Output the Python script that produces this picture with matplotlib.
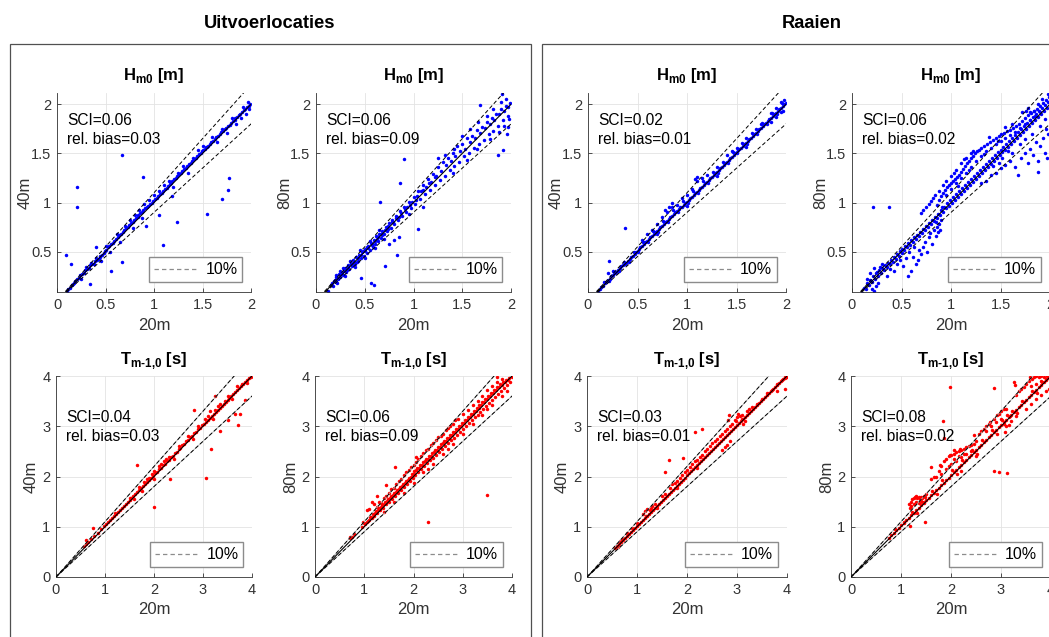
import matplotlib
matplotlib.use("Agg")
import matplotlib.pyplot as plt
import numpy as np
from matplotlib.lines import Line2D
from matplotlib.patches import Rectangle

plt.rcParams['font.family'] = ['Liberation Sans', 'DejaVu Sans']
plt.rcParams['mathtext.fontset'] = 'custom'
plt.rcParams['mathtext.rm'] = 'Liberation Sans'
plt.rcParams['mathtext.bf'] = 'Liberation Sans:bold'

# ---------------- data ----------------
panel_titles = ["Uitvoerlocaties", "Raaien"]
xlabel = "20m"
ylabels = ["40m", "80m", "40m", "80m"]
sci_hm0 = ["0.06", "0.06", "0.02", "0.06"]
bias_hm0 = ["0.03", "0.09", "0.01", "0.02"]
sci_tm = ["0.04", "0.06", "0.03", "0.08"]
bias_tm = ["0.03", "0.09", "0.01", "0.02"]
hm0_ticks = [0, 0.5, 1, 1.5, 2]
hm0_ticklabels = ["0", "0.5", "1", "1.5", "2"]
tm_ticks = [0, 1, 2, 3, 4]

# Uitvoerlocaties, Hm0, 40m vs 20m
uit_hm0_40 = [
    (0.10,0.10),(0.11,0.12),(0.13,0.13),(0.15,0.16),(0.16,0.17),(0.18,0.18),(0.19,0.20),(0.21,0.22),
    (0.23,0.23),(0.24,0.26),(0.26,0.27),(0.28,0.28),(0.29,0.31),(0.31,0.32),(0.33,0.33),(0.34,0.36),
    (0.36,0.37),(0.38,0.38),(0.39,0.41),(0.41,0.42),(0.43,0.43),(0.44,0.46),(0.46,0.47),(0.48,0.49),
    (0.49,0.51),(0.51,0.52),(0.53,0.55),(0.54,0.56),(0.56,0.58),(0.58,0.59),(0.59,0.61),(0.61,0.63),
    (0.63,0.65),(0.64,0.67),(0.66,0.68),(0.68,0.70),(0.69,0.72),(0.71,0.74),(0.73,0.75),(0.74,0.77),
    (0.76,0.79),(0.78,0.80),(0.79,0.82),(0.81,0.84),(0.83,0.85),(0.84,0.87),(0.86,0.89),(0.88,0.90),
    (0.89,0.92),(0.91,0.94),(0.93,0.95),(0.94,0.97),(0.96,0.99),(0.98,1.00),(0.99,1.02),(1.01,1.04),
    (1.03,1.05),(1.04,1.07),(1.06,1.09),(1.08,1.10),(1.09,1.12),(1.11,1.14),(1.13,1.15),(1.14,1.17),
    (1.16,1.19),(1.18,1.20),(1.19,1.22),(1.21,1.24),(1.23,1.25),(1.24,1.27),(1.26,1.29),(1.28,1.30),
    (1.29,1.32),(1.31,1.34),(1.33,1.35),(1.34,1.37),(1.36,1.39),(1.38,1.40),(1.39,1.42),(1.41,1.44),
    (1.43,1.45),(1.44,1.47),(1.46,1.49),(1.48,1.50),(1.49,1.52),(1.51,1.53),(1.53,1.55),(1.54,1.57),
    (1.56,1.58),(1.58,1.60),(1.59,1.62),(1.61,1.63),(1.63,1.65),(1.64,1.67),(1.66,1.68),(1.68,1.70),
    (1.69,1.72),(1.71,1.73),(1.73,1.75),(1.74,1.76),(1.76,1.78),(1.78,1.79),(1.79,1.81),(1.81,1.83),
    (1.83,1.84),(1.84,1.86),(1.86,1.87),(1.88,1.89),(1.89,1.90),(1.91,1.92),(1.93,1.94),(1.94,1.95),
    (1.96,1.97),(1.98,1.98),(1.99,2.00),
    (0.62,0.68),(0.70,0.76),(0.75,0.82),(0.80,0.87),(0.85,0.92),(0.90,0.99),(0.95,1.03),(1.00,1.08),
    (1.05,1.12),(0.78,0.74),(0.88,0.84),(1.10,1.18),(1.15,1.22),(1.30,1.37),(1.45,1.53),(1.50,1.58),
    (1.55,1.57),(1.60,1.67),(1.65,1.62),(1.70,1.75),(1.75,1.71),(1.80,1.86),(1.85,1.80),(1.90,1.86),
    (1.92,1.97),(1.95,1.90),(1.98,1.95),(1.97,2.02),(1.20,1.16),(1.35,1.30),(0.50,0.56),(0.40,0.44),
    (0.30,0.34),(0.55,0.50),(0.45,0.41),(0.35,0.39),(0.25,0.22),(0.65,0.60),(1.40,1.45),(1.25,1.30),
    (0.21,1.16),(0.21,0.95),(0.67,1.48),(0.89,1.26),(1.77,1.25),(1.76,1.13),(1.70,1.04),(1.55,0.88),
    (1.24,0.80),(1.09,0.57),(0.92,0.76),(0.09,0.47),(0.14,0.38),(0.34,0.17),(0.67,0.40),(0.56,0.30),
    (0.40,0.55),(1.05,0.87),(0.44,0.45),(1.19,1.07),
]

# Uitvoerlocaties, Hm0, 80m vs 20m
uit_hm0_80 = [
    (0.12,0.10),(0.15,0.16),(0.17,0.15),(0.18,0.20),(0.20,0.19),(0.21,0.24),(0.23,0.22),(0.24,0.27),
    (0.25,0.24),(0.27,0.29),(0.28,0.26),(0.30,0.33),(0.31,0.29),(0.33,0.36),(0.34,0.32),(0.36,0.39),
    (0.37,0.35),(0.38,0.42),(0.40,0.38),(0.41,0.45),(0.43,0.41),(0.44,0.47),(0.46,0.44),(0.47,0.50),
    (0.49,0.46),(0.50,0.53),(0.52,0.49),(0.53,0.56),(0.55,0.52),(0.56,0.59),(0.58,0.55),(0.59,0.62),
    (0.61,0.58),(0.62,0.66),(0.64,0.61),(0.65,0.68),(0.67,0.64),(0.68,0.71),(0.70,0.68),(0.72,0.75),
    (0.73,0.71),(0.75,0.79),(0.77,0.74),(0.78,0.82),(0.80,0.78),(0.82,0.86),(0.84,0.82),(0.86,0.91),
    (0.88,0.86),(0.90,0.96),(0.92,0.90),(0.95,1.01),(0.97,0.94),(1.00,1.06),(1.02,0.99),(1.05,1.12),
    (1.07,1.04),(1.10,1.18),(1.12,1.09),(1.15,1.24),(1.17,1.13),(1.20,1.29),(1.22,1.18),(1.25,1.36),
    (1.27,1.23),(1.30,1.41),(1.32,1.27),(1.35,1.45),(1.37,1.33),(1.40,1.50),(1.42,1.37),(1.45,1.58),
    (1.47,1.41),(1.50,1.60),(1.52,1.47),(1.55,1.66),(1.57,1.50),(1.60,1.68),(1.62,1.56),(1.65,1.74),
    (1.67,1.60),(1.70,1.77),(1.72,1.64),(1.75,1.82),(1.77,1.70),(1.80,1.86),(1.82,1.73),(1.85,1.90),
    (1.87,1.78),(1.90,1.95),(1.92,1.84),(1.95,1.98),(1.97,1.88),(1.99,2.01),
    (0.16,0.18),(0.19,0.21),(0.22,0.23),(0.26,0.27),(0.29,0.30),(0.33,0.34),(0.36,0.37),(0.39,0.40),
    (0.43,0.44),(0.46,0.47),(0.50,0.51),(0.53,0.54),(0.57,0.58),(0.60,0.61),(0.64,0.65),(0.67,0.68),
    (0.71,0.72),(0.74,0.76),(0.78,0.80),(0.82,0.84),(0.87,0.89),(0.93,0.96),(0.98,1.01),(1.04,1.07),
    (1.10,1.13),(1.16,1.20),(1.22,1.26),
    (0.20,0.26),(0.25,0.30),(0.30,0.25),(0.35,0.41),(0.40,0.34),(0.45,0.52),(0.50,0.44),(0.55,0.61),
    (0.60,0.54),(0.65,0.72),(0.70,0.63),(0.22,0.18),(0.28,0.33),(0.32,0.31),(0.38,0.37),(0.42,0.40),
    (0.48,0.51),(0.52,0.55),(0.57,0.57),(0.63,0.63),(0.68,0.67),(0.74,0.73),(0.79,0.80),(0.85,0.85),
    (0.91,0.93),(0.96,0.98),(1.03,1.03),(1.08,1.12),(1.13,1.16),(1.18,1.21),(1.23,1.27),(1.28,1.32),
    (1.33,1.38),(1.38,1.42),(1.43,1.47),(1.48,1.52),(1.53,1.55),(1.58,1.62),(1.63,1.66),(1.68,1.71),
    (1.73,1.76),(1.78,1.80),(1.83,1.84),(1.88,1.90),(1.93,1.93),(1.97,1.97),(1.25,1.45),(1.32,1.48),
    (1.42,1.55),(1.50,1.68),(1.58,1.75),(1.66,1.82),(1.75,1.88),(1.82,1.95),(1.90,2.02),(1.95,2.05),
    (1.40,1.30),(1.55,1.43),(1.65,1.55),(1.78,1.65),(1.88,1.72),(1.93,1.78),(1.98,1.85),
    (0.90,1.44),(0.86,1.20),(0.66,1.01),(1.05,0.73),(0.46,0.23),(0.56,0.18),(0.59,0.16),(0.71,0.35),
    (0.83,0.47),(1.68,1.99),(1.91,2.10),(1.87,1.48),(1.92,1.53),(1.96,1.70),(1.97,1.77),(0.80,0.62),
    (0.85,0.65),(0.75,0.58),(0.95,0.88),(1.10,0.95),
]

# Raaien, Hm0, 40m vs 20m
raai_hm0_40 = [
    (0.10,0.10),(0.12,0.12),(0.13,0.14),(0.15,0.15),(0.17,0.18),(0.18,0.19),(0.20,0.21),(0.22,0.22),
    (0.23,0.25),(0.25,0.26),(0.27,0.28),(0.28,0.29),(0.30,0.31),(0.32,0.33),(0.33,0.35),(0.35,0.36),
    (0.37,0.38),(0.38,0.39),(0.40,0.41),(0.42,0.43),(0.43,0.45),(0.45,0.46),(0.47,0.48),(0.48,0.50),
    (0.50,0.51),(0.52,0.53),(0.53,0.55),(0.55,0.56),(0.57,0.58),(0.58,0.60),(0.60,0.61),(0.62,0.63),
    (0.63,0.65),(0.65,0.66),(0.67,0.68),(0.68,0.70),(0.70,0.71),(0.72,0.73),(0.73,0.75),(0.75,0.76),
    (0.77,0.78),(0.78,0.80),(0.80,0.81),(0.82,0.83),(0.83,0.85),(0.85,0.86),(0.87,0.88),(0.88,0.90),
    (0.90,0.91),(0.92,0.93),(0.93,0.95),(0.95,0.96),(0.97,0.98),(0.98,1.00),(1.00,1.01),(1.02,1.03),
    (1.03,1.05),(1.05,1.06),(1.07,1.08),(1.08,1.10),(1.10,1.11),(1.12,1.13),(1.13,1.15),(1.15,1.16),
    (1.17,1.18),(1.18,1.20),(1.20,1.21),(1.22,1.23),(1.23,1.25),(1.25,1.26),(1.27,1.28),(1.28,1.30),
    (1.30,1.31),(1.32,1.33),(1.33,1.35),(1.35,1.36),(1.37,1.38),(1.38,1.40),(1.40,1.41),(1.42,1.43),
    (1.43,1.45),(1.45,1.46),(1.47,1.48),(1.48,1.50),(1.50,1.51),(1.52,1.53),(1.53,1.55),(1.55,1.56),
    (1.57,1.58),(1.58,1.60),(1.60,1.61),(1.62,1.63),(1.63,1.65),(1.65,1.66),(1.67,1.68),(1.68,1.70),
    (1.70,1.71),(1.72,1.73),(1.73,1.75),(1.75,1.76),(1.77,1.78),(1.78,1.80),(1.80,1.81),(1.82,1.83),
    (1.83,1.85),(1.85,1.86),(1.87,1.88),(1.88,1.90),(1.90,1.91),(1.92,1.93),(1.93,1.95),(1.95,1.96),
    (1.97,1.98),(1.98,2.00),(2.00,2.01),
    (0.16,0.19),(0.26,0.29),(0.36,0.40),(0.46,0.50),(0.56,0.60),(0.66,0.71),(0.76,0.81),(0.86,0.92),
    (0.96,1.02),(1.06,1.12),(1.16,1.22),(1.26,1.31),(1.36,1.41),(1.46,1.51),(1.56,1.61),(1.66,1.71),
    (1.76,1.81),(1.86,1.91),(1.96,2.01),(0.21,0.20),(0.31,0.30),(0.41,0.40),(0.51,0.50),(0.61,0.60),
    (0.71,0.70),(0.81,0.80),(0.91,0.90),(1.01,1.00),(1.11,1.10),(1.21,1.20),(1.31,1.30),(1.41,1.40),
    (1.51,1.50),(1.61,1.60),(1.71,1.70),(1.81,1.80),(1.91,1.90),
    (0.20,0.28),(0.25,0.30),(0.55,0.62),(0.60,0.68),(0.65,0.72),(0.70,0.78),(0.75,0.85),(0.80,0.90),
    (0.85,0.95),(0.90,0.98),(0.95,1.05),(1.00,1.08),(1.05,1.14),(1.10,1.22),(1.15,1.25),(1.20,1.28),
    (1.30,1.36),(1.40,1.48),(1.45,1.52),(1.50,1.56),(1.60,1.66),(1.70,1.75),(1.75,1.80),(1.85,1.91),
    (1.90,1.96),(1.95,2.02),(1.98,2.04),(1.95,1.92),(1.90,1.87),(1.97,1.93),(1.85,1.82),(1.60,1.57),
    (1.30,1.27),(1.00,0.97),(0.70,0.68),
    (0.37,0.74),(0.21,0.41),(0.78,0.92),(0.82,0.95),(0.85,1.00),(1.08,1.24),(1.10,1.26),
]

# Raaien, Hm0, 80m vs 20m
raai_hm0_80 = [
    (0.10,0.08),(0.12,0.13),(0.14,0.12),(0.15,0.18),(0.17,0.16),(0.18,0.21),(0.20,0.19),(0.21,0.25),
    (0.23,0.22),(0.24,0.28),(0.26,0.25),(0.27,0.31),(0.29,0.28),(0.30,0.33),(0.32,0.31),(0.33,0.36),
    (0.35,0.34),(0.36,0.39),(0.38,0.37),(0.39,0.42),(0.41,0.40),(0.42,0.45),(0.44,0.43),(0.45,0.48),
    (0.47,0.46),(0.48,0.51),(0.50,0.49),(0.51,0.53),(0.53,0.52),(0.54,0.56),(0.56,0.55),(0.57,0.59),
    (0.59,0.57),(0.60,0.62),(0.62,0.60),(0.63,0.65),(0.65,0.63),(0.66,0.67),(0.68,0.66),(0.69,0.70),
    (0.71,0.69),(0.72,0.73),(0.74,0.72),(0.75,0.76),(0.77,0.75),(0.78,0.79),(0.80,0.78),(0.81,0.82),
    (0.83,0.81),(0.84,0.85),(0.86,0.84),(0.87,0.88),(0.89,0.87),(0.90,0.92),(0.92,0.90),(0.93,0.96),
    (0.95,0.94),(0.96,1.00),(0.98,0.97),(0.99,1.03),(1.01,1.00),(1.02,1.06),(1.04,1.03),(1.05,1.09),
    (1.07,1.06),(1.08,1.12),(1.10,1.09),(1.11,1.15),(1.13,1.12),(1.14,1.18),(1.16,1.15),(1.17,1.21),
    (1.19,1.18),(1.20,1.24),(1.22,1.21),(1.23,1.27),(1.25,1.24),(1.26,1.30),(1.28,1.27),(1.29,1.33),
    (1.31,1.30),(1.32,1.36),(1.34,1.33),(1.35,1.39),(1.37,1.36),(1.38,1.42),(1.40,1.39),(1.41,1.45),
    (1.43,1.42),(1.44,1.48),(1.46,1.45),(1.47,1.51),(1.49,1.48),(1.50,1.54),(1.52,1.51),(1.53,1.57),
    (1.55,1.54),(1.56,1.60),(1.58,1.57),(1.59,1.63),(1.61,1.60),(1.62,1.66),(1.64,1.63),(1.65,1.69),
    (1.67,1.66),(1.68,1.72),(1.70,1.69),(1.71,1.75),(1.73,1.72),(1.74,1.78),(1.76,1.75),(1.77,1.81),
    (1.79,1.78),(1.80,1.84),(1.82,1.81),(1.83,1.87),(1.85,1.84),(1.86,1.90),(1.88,1.87),(1.89,1.93),
    (1.91,1.90),(1.92,1.96),(1.94,1.93),(1.95,1.99),(1.97,1.96),(1.98,2.02),(2.00,1.99),
    (0.86,0.98),(0.88,1.03),(0.90,1.07),(0.92,1.10),(0.94,1.13),(0.96,1.16),(0.98,1.18),(1.00,1.20),
    (1.02,1.22),(1.04,1.24),(1.06,1.26),(1.08,1.28),(1.10,1.31),(1.12,1.34),(1.14,1.37),(1.16,1.40),
    (1.18,1.42),(1.20,1.45),(1.22,1.47),(1.24,1.50),(1.26,1.52),(1.28,1.54),(1.30,1.56),(1.33,1.58),
    (1.36,1.60),(1.39,1.62),(1.42,1.64),(1.45,1.66),(1.48,1.68),(1.51,1.70),(1.54,1.71),(1.57,1.73),
    (1.60,1.74),(1.63,1.76),(1.66,1.78),(1.69,1.80),(1.72,1.83),(1.75,1.86),(1.78,1.89),(1.81,1.91),
    (1.84,1.93),(1.87,1.95),(1.90,1.98),(1.93,2.01),(1.96,2.04),(1.99,2.07),
    (0.95,1.08),(1.00,1.14),(1.05,1.20),(1.10,1.25),(1.15,1.30),(1.20,1.36),(1.25,1.42),(1.30,1.47),
    (1.35,1.52),(1.40,1.56),(1.45,1.60),(1.50,1.63),(1.55,1.66),(1.60,1.69),(1.65,1.72),(1.70,1.76),
    (1.75,1.80),(1.80,1.84),(1.85,1.88),(1.90,1.92),(1.03,1.30),(1.13,1.44),(1.22,1.52),(1.38,1.67),
    (1.55,1.77),(1.47,1.63),(1.62,1.80),(1.33,1.49),(1.18,1.33),(1.07,1.17),
    (0.70,0.89),(0.72,0.92),(0.75,0.96),(0.78,0.99),(0.80,1.02),(0.82,1.05),(0.84,1.08),(0.85,0.80),
    (0.86,0.75),(0.87,0.70),(0.88,0.78),(0.89,0.72),(0.90,0.82),(0.91,0.95),(0.88,1.12),(0.92,1.18),
    (0.95,1.22),(1.00,1.27),(1.05,1.33),(1.10,1.40),(1.15,1.45),(1.20,1.50),
    (0.52,0.35),(0.57,0.25),(0.60,0.30),(0.62,0.45),(0.65,0.38),(0.67,0.42),(0.68,0.52),(0.70,0.48),
    (0.72,0.55),(0.74,0.60),(0.76,0.50),(0.78,0.65),(0.79,0.69),(0.81,0.58),(0.83,0.72),(0.85,0.66),
    (0.55,0.44),(0.58,0.50),(0.63,0.55),(0.48,0.42),(0.45,0.38),(0.42,0.30),(0.38,0.32),(0.35,0.25),
    (0.20,0.12),(0.22,0.10),(0.24,0.15),(0.26,0.18),(0.25,0.29),(0.28,0.34),(0.30,0.37),(0.18,0.28),
    (0.22,0.33),(0.15,0.22),
    (1.30,1.20),(1.35,1.22),(1.40,1.28),(1.45,1.30),(1.50,1.35),(1.55,1.38),(1.60,1.42),(1.65,1.36),
    (1.68,1.28),(1.71,1.45),(1.75,1.50),(1.78,1.40),(1.80,1.55),(1.83,1.48),(1.86,1.62),(1.88,1.42),
    (1.88,1.31),(1.90,1.58),(1.93,1.66),(1.95,1.50),(1.97,1.45),(1.98,1.70),(1.96,1.75),(1.62,1.50),
    (1.58,1.52),(1.52,1.45),(1.48,1.40),(1.42,1.37),(1.70,1.60),(1.75,1.65),(1.82,1.70),(1.90,1.78),
    (1.95,1.85),(1.72,1.92),(1.76,1.93),(1.80,1.92),(1.84,1.93),(1.78,1.96),(1.88,2.00),(1.92,2.05),
    (1.98,2.10),(0.21,0.96),(0.37,0.96),
]

# Uitvoerlocaties, Tm-1,0, 40m vs 20m
uit_tm_40 = [
    (0.58,0.62),(0.62,0.66),(0.66,0.70),(0.72,0.75),(0.78,0.81),(0.85,0.88),(0.92,0.95),(0.98,1.02),
    (1.02,1.05),(1.06,1.10),(1.10,1.13),(1.14,1.18),(1.18,1.21),(1.22,1.26),(1.26,1.29),(1.30,1.34),
    (1.34,1.37),(1.38,1.42),(1.42,1.45),(1.46,1.50),(1.50,1.53),(1.54,1.58),(1.58,1.61),(1.62,1.66),
    (1.66,1.69),(1.70,1.74),(1.74,1.77),(1.78,1.82),(1.82,1.85),(1.86,1.90),(1.90,1.93),(1.94,1.98),
    (1.98,2.01),(2.02,2.06),(2.06,2.09),(2.10,2.14),(2.14,2.17),(2.18,2.22),(2.22,2.25),(2.26,2.30),
    (2.30,2.33),(2.34,2.38),(2.38,2.41),(2.42,2.46),(2.46,2.49),(2.50,2.54),(2.54,2.57),(2.58,2.62),
    (2.62,2.65),(2.66,2.70),(2.70,2.73),(2.74,2.78),(2.78,2.81),(2.82,2.86),(2.86,2.89),(2.90,2.94),
    (2.94,2.97),(2.98,3.02),(3.02,3.05),(3.06,3.09),(3.10,3.13),(3.14,3.17),(3.18,3.21),(3.22,3.25),
    (3.26,3.29),(3.30,3.33),(3.34,3.37),(3.38,3.41),(3.42,3.45),(3.46,3.49),(3.50,3.53),(3.54,3.57),
    (3.58,3.61),(3.62,3.65),(3.66,3.69),(3.70,3.73),(3.74,3.77),(3.78,3.81),(3.82,3.85),(3.86,3.89),
    (3.90,3.93),(3.94,3.96),(3.98,3.99),
    (1.20,1.28),(1.50,1.58),(1.70,1.80),(1.80,1.90),(1.85,1.95),(1.90,1.97),(1.95,2.05),(2.00,2.10),
    (2.10,2.20),(2.20,2.30),(2.30,2.38),(2.50,2.60),(2.70,2.80),(2.90,3.00),(3.10,3.20),(3.30,3.40),
    (3.50,3.60),(3.70,3.80),(3.80,3.85),(3.90,3.86),(3.60,3.55),(3.20,3.15),(2.80,2.75),(2.40,2.35),
    (2.00,1.95),(1.60,1.56),(1.75,1.72),(2.15,2.25),(2.25,2.35),(3.25,3.32),(3.35,3.45),(3.45,3.50),
    (3.15,3.30),(3.05,3.15),
    (1.66,2.22),(2.00,1.39),(2.81,3.32),(3.07,1.98),(3.16,2.55),(3.34,2.90),(3.71,3.02),(3.75,3.24),
    (3.65,3.24),(3.85,3.52),(2.32,1.96),(3.24,3.60),(3.51,3.12),(0.76,0.97),(0.61,0.73),
]

# Uitvoerlocaties, Tm-1,0, 80m vs 20m
uit_tm_80 = [
    (0.72,0.78),(0.76,0.80),(0.80,0.85),(0.95,1.00),(1.00,1.08),(1.05,1.10),(1.10,1.14),(1.12,1.20),
    (1.15,1.17),(1.18,1.26),(1.20,1.22),(1.24,1.32),(1.26,1.27),(1.30,1.38),(1.32,1.33),(1.36,1.44),
    (1.38,1.38),(1.42,1.50),(1.44,1.45),(1.48,1.56),(1.50,1.50),(1.54,1.62),(1.56,1.56),(1.60,1.68),
    (1.62,1.62),(1.66,1.74),(1.68,1.68),(1.72,1.80),(1.74,1.73),(1.78,1.86),(1.80,1.80),(1.84,1.92),
    (1.86,1.85),(1.90,1.98),(1.92,1.91),(1.96,2.04),(1.98,1.97),(2.02,2.10),(2.04,2.03),(2.08,2.16),
    (2.10,2.08),(2.14,2.22),(2.16,2.14),(2.20,2.28),(2.22,2.20),(2.26,2.34),(2.28,2.26),(2.32,2.40),
    (2.34,2.32),(2.38,2.46),(2.40,2.37),(2.44,2.52),(2.46,2.43),(2.50,2.58),(2.52,2.49),(2.56,2.64),
    (2.58,2.55),(2.62,2.70),(2.64,2.60),(2.68,2.76),(2.70,2.66),(2.74,2.82),(2.76,2.72),(2.80,2.88),
    (2.82,2.77),(2.86,2.94),(2.88,2.83),(2.92,3.00),(2.94,2.89),(2.98,3.06),(3.00,2.95),(3.04,3.12),
    (3.06,3.00),(3.10,3.18),(3.12,3.06),(3.16,3.24),(3.18,3.12),(3.22,3.30),(3.24,3.18),(3.28,3.36),
    (3.30,3.23),(3.34,3.42),(3.36,3.29),(3.40,3.48),(3.42,3.35),(3.46,3.54),(3.48,3.41),(3.52,3.60),
    (3.54,3.46),(3.58,3.66),(3.60,3.52),(3.64,3.72),(3.66,3.58),(3.70,3.78),(3.72,3.64),(3.76,3.84),
    (3.78,3.70),(3.82,3.88),(3.84,3.76),(3.88,3.92),(3.90,3.82),(3.94,3.96),(3.96,3.88),(3.99,3.98),
    (1.02,1.05),(1.08,1.12),(1.14,1.19),(1.22,1.28),(1.28,1.34),(1.34,1.39),(1.40,1.45),(1.46,1.52),
    (1.52,1.57),(1.58,1.64),(1.64,1.69),(1.70,1.76),(1.76,1.81),(1.82,1.88),(1.88,1.93),(1.94,2.00),
    (2.00,2.05),(2.06,2.12),(2.12,2.17),(2.18,2.23),(2.24,2.30),(2.30,2.35),(2.36,2.41),(2.42,2.48),
    (2.48,2.53),(2.54,2.59),(2.60,2.66),(2.66,2.71),(2.72,2.77),(2.78,2.83),(2.84,2.89),(2.90,2.95),
    (2.96,3.01),(3.02,3.07),(3.08,3.13),(3.14,3.19),(3.20,3.25),(3.26,3.30),(3.32,3.36),(3.38,3.42),
    (3.44,3.48),(3.50,3.54),(3.56,3.60),(3.62,3.66),(3.68,3.72),(3.74,3.78),(3.80,3.83),(3.86,3.88),
    (3.92,3.93),
    (1.20,1.45),(1.25,1.40),(1.30,1.50),(1.35,1.48),(1.40,1.58),(1.45,1.62),(1.50,1.68),(1.55,1.75),
    (1.60,1.78),(1.65,1.85),(1.70,1.92),(1.75,1.95),(1.80,2.02),(1.85,2.08),(1.90,2.12),(1.95,2.18),
    (2.00,2.22),(2.05,2.28),(2.10,2.35),(2.15,2.40),(2.20,2.46),(2.25,2.52),(2.30,2.55),(2.35,2.62),
    (2.40,2.66),(2.45,2.72),(2.50,2.78),(2.55,2.80),(2.60,2.85),(2.65,2.92),(2.70,2.96),(2.75,3.00),
    (2.80,3.05),(2.85,3.12),(2.90,3.15),(3.00,3.25),(3.10,3.32),(3.20,3.42),(3.30,3.50),(3.40,3.60),
    (3.50,3.72),(3.60,3.80),(3.70,3.88),(3.80,3.95),
    (1.40,1.30),(1.60,1.50),(1.80,1.68),(2.00,1.88),(2.20,2.08),(2.40,2.25),(2.60,2.45),(2.80,2.65),
    (3.00,2.85),(3.20,3.05),(3.40,3.22),(3.60,3.42),(3.80,3.60),(3.90,3.70),(2.30,2.15),(2.70,2.55),
    (3.50,3.35),
    (3.50,1.64),(2.30,1.10),(1.15,1.49),(1.62,2.19),(2.05,2.39),(0.98,1.09),(0.72,0.80),(3.69,3.99),
    (1.05,1.33),(1.25,1.62),(1.45,1.83),(1.10,1.35),
]

# Raaien, Tm-1,0, 40m vs 20m
raai_tm_40 = [
    (0.55,0.57),(0.60,0.62),(0.64,0.66),(0.68,0.70),(0.72,0.74),(0.76,0.78),(0.80,0.82),(0.84,0.86),
    (0.88,0.90),(0.92,0.94),(0.96,0.98),(1.00,1.02),(1.04,1.06),(1.08,1.10),(1.12,1.14),(1.16,1.18),
    (1.20,1.22),(1.24,1.26),(1.28,1.30),(1.32,1.34),(1.36,1.38),(1.40,1.42),(1.44,1.46),(1.48,1.50),
    (1.52,1.54),(1.56,1.58),(1.60,1.62),(1.64,1.66),(1.68,1.70),(1.72,1.74),(1.76,1.78),(1.80,1.82),
    (1.84,1.86),(1.88,1.90),(1.92,1.94),(1.96,1.98),(2.00,2.02),(2.04,2.06),(2.08,2.10),(2.12,2.14),
    (2.16,2.18),(2.20,2.22),(2.24,2.26),(2.28,2.30),(2.32,2.34),(2.36,2.38),(2.40,2.42),(2.44,2.46),
    (2.48,2.50),(2.52,2.54),(2.56,2.58),(2.60,2.62),(2.64,2.66),(2.68,2.70),(2.72,2.74),(2.76,2.78),
    (2.80,2.82),(2.84,2.86),(2.88,2.90),(2.92,2.94),(2.96,2.98),(3.00,3.02),(3.04,3.06),(3.08,3.10),
    (3.12,3.14),(3.16,3.18),(3.20,3.22),(3.24,3.26),(3.28,3.30),(3.32,3.34),(3.36,3.38),(3.40,3.42),
    (3.44,3.46),(3.48,3.50),(3.52,3.54),(3.56,3.58),(3.60,3.62),(3.64,3.66),(3.68,3.70),(3.72,3.74),
    (3.76,3.78),(3.80,3.82),(3.84,3.86),(3.88,3.90),(3.92,3.94),(3.96,3.97),(3.99,3.99),
    (1.15,1.32),(1.20,1.35),(1.25,1.33),(1.30,1.42),(1.35,1.45),(1.12,1.25),(1.18,1.22),(1.28,1.37),
    (1.50,1.62),(1.55,1.65),(1.65,1.78),(1.70,1.85),(1.75,1.88),(1.80,1.92),(1.85,1.98),(1.90,2.03),
    (1.95,2.08),(2.00,2.12),(2.05,2.18),(2.10,2.25),(2.15,2.30),(2.20,2.32),(2.25,2.38),(2.30,2.42),
    (2.35,2.50),(2.40,2.55),(2.45,2.60),(2.50,2.66),(2.55,2.70),(2.60,2.75),(2.65,2.80),(2.70,2.85),
    (2.75,2.90),(2.80,2.95),(2.85,3.00),(2.90,3.05),(2.95,3.12),(3.00,3.18),(3.05,3.20),(3.10,3.15),
    (3.12,3.05),(3.15,3.10),(2.98,3.10),(3.02,3.25),(3.09,3.22),(3.23,3.35),(3.20,3.30),(3.30,3.38),
    (3.40,3.45),(3.50,3.55),(3.60,3.66),(3.70,3.72),(3.80,3.85),(3.90,3.92),(3.95,3.98),(1.00,1.08),
    (0.90,0.98),(0.80,0.88),(0.70,0.76),(0.65,0.72),(0.62,0.60),(1.40,1.38),(1.80,1.78),(2.20,2.16),
    (2.69,2.52),(2.75,2.58),(2.80,2.62),(2.85,2.70),
    (1.63,2.32),(1.56,2.09),(1.91,2.37),(2.29,2.95),(2.16,2.89),(2.83,3.22),(2.81,3.12),(3.95,3.75),
    (3.79,3.71),
]

# Raaien, Tm-1,0, 80m vs 20m
raai_tm_80 = [
    (0.75,0.78),(0.80,0.83),(0.85,0.87),(0.90,0.93),(0.95,0.98),(1.00,1.03),(1.05,1.08),(1.10,1.13),
    (1.15,1.18),(1.20,1.23),(1.25,1.28),(1.30,1.33),(1.35,1.38),(1.40,1.43),(1.45,1.48),(1.50,1.53),
    (1.55,1.58),(1.60,1.63),(1.65,1.68),(1.70,1.73),(1.75,1.78),(1.80,1.83),(1.85,1.88),(1.90,1.93),
    (1.95,1.98),(2.00,2.03),(2.05,2.08),(2.10,2.13),(2.15,2.18),(2.20,2.23),(2.25,2.28),(2.30,2.33),
    (2.35,2.38),(2.40,2.43),(2.45,2.48),(2.50,2.53),(2.55,2.58),(2.60,2.63),(2.65,2.68),(2.70,2.73),
    (2.75,2.78),(2.80,2.83),(2.85,2.88),(2.90,2.93),(2.95,2.98),(3.00,3.03),(3.05,3.08),(3.10,3.13),
    (3.15,3.18),(3.20,3.23),(3.25,3.28),(3.30,3.33),(3.35,3.38),(3.40,3.43),(3.45,3.48),(3.50,3.53),
    (3.55,3.58),(3.60,3.63),(3.65,3.68),(3.70,3.73),(3.75,3.78),(3.80,3.83),(3.85,3.88),(3.90,3.93),
    (3.95,3.97),(1.22,1.30),(1.42,1.50),(1.62,1.72),(1.82,1.93),(2.02,2.12),(2.22,2.32),(2.42,2.52),
    (2.62,2.72),(2.82,2.92),(3.02,3.12),(3.22,3.30),(3.42,3.50),(3.62,3.70),(3.82,3.88),(1.32,1.28),
    (1.72,1.66),(2.12,2.05),(2.52,2.45),(2.92,2.85),(3.32,3.26),(3.72,3.66),
    (1.15,1.45),(1.20,1.50),(1.22,1.55),(1.25,1.58),(1.28,1.60),(1.30,1.62),(1.32,1.58),(1.35,1.60),
    (1.38,1.55),(1.40,1.60),(1.42,1.58),(1.45,1.62),(1.48,1.60),(1.50,1.65),(1.25,1.45),(1.30,1.50),
    (1.35,1.48),(1.40,1.52),(1.45,1.50),(1.20,1.42),(1.18,1.38),
    (1.70,2.00),(1.75,2.10),(1.80,2.20),(1.85,2.30),(1.90,2.35),(1.95,2.40),(2.00,2.42),(2.05,2.45),
    (2.10,2.48),(2.15,2.50),(2.20,2.52),(2.25,2.55),(2.30,2.58),(2.35,2.60),(2.40,2.62),(2.45,2.65),
    (2.50,2.70),(1.80,2.05),(1.90,2.15),(2.00,2.25),(2.10,2.30),(2.20,2.38),(2.30,2.45),(2.40,2.50),
    (1.95,2.20),(2.05,2.35),(2.15,2.40),(2.25,2.45),(1.78,2.22),(1.65,2.00),(1.60,1.95),(1.98,2.42),
    (2.05,2.52),(2.18,2.55),
    (2.45,2.82),(2.55,2.85),(2.60,2.90),(2.65,2.95),(2.70,3.00),(2.75,3.05),(2.78,3.08),(2.85,3.15),
    (2.91,3.22),(2.95,3.25),(3.00,3.30),(3.05,3.35),(3.10,3.35),(3.11,3.22),(3.15,3.02),(3.18,3.20),
    (3.20,3.10),(3.08,2.89),(3.10,3.00),(3.05,3.05),(2.80,3.00),(2.90,3.08),(3.00,3.15),(2.70,2.90),
    (3.55,3.90),(3.58,3.98),(3.61,3.95),(3.65,3.98),(3.70,4.00),(3.75,3.98),(3.80,4.00),(3.85,3.98),
    (3.91,4.00),(3.95,3.97),(3.50,3.85),(3.45,3.78),(3.40,3.75),(3.35,3.70),(3.30,3.62),(3.60,3.80),
    (3.70,3.85),(3.80,3.90),(3.90,3.95),(3.25,3.88),(3.28,3.82),
    (3.50,3.35),(3.60,3.45),(3.70,3.55),(3.80,3.62),(3.90,3.70),(3.95,3.75),(3.30,3.20),(2.50,2.40),
    (2.20,2.10),
    (1.98,3.78),(2.85,3.76),(1.83,3.10),(1.85,2.77),(2.85,2.11),(2.95,2.09),(3.11,2.06),(1.59,2.19),
    (1.47,1.10),(1.17,1.01),(0.88,0.96),(1.05,1.10),
]

hm0_sets = [uit_hm0_40, uit_hm0_80, raai_hm0_40, raai_hm0_80]
tm_sets = [uit_tm_40, uit_tm_80, raai_tm_40, raai_tm_80]

# ---------------- figure ----------------
W, H = 1049, 637
fig = plt.figure(figsize=(W / 100, H / 100), dpi=100)

def px_axes(l, r, t, b):
    return fig.add_axes([l / W, 1 - b / H, (r - l) / W, (b - t) / H])

top_rects = [(57, 251), (316, 511), (588, 786), (852, 1050)]
bot_rects = [(56, 252), (315, 512), (587, 787), (851, 1051)]

txt_col = '#333333'

def style(ax, lim, ticks, labels):
    ax.set_xlim(lim[0], lim[1])
    ax.set_ylim(lim[2], lim[3])
    ax.set_xticks(ticks)
    ax.set_xticklabels(labels)
    yt = [t for t in ticks if t >= lim[2]]
    ax.set_yticks(yt)
    ax.set_yticklabels([labels[ticks.index(t)] for t in yt])
    ax.grid(True, color='#e3e3e3', lw=0.6)
    ax.set_axisbelow(True)
    for s in ['top', 'right']:
        ax.spines[s].set_visible(False)
    for s in ['left', 'bottom']:
        ax.spines[s].set_color(txt_col)
        ax.spines[s].set_linewidth(0.6)
    ax.tick_params(direction='in', length=3, width=0.6, colors=txt_col,
                   labelsize=10.5, pad=4)

def draw(ax, pts, color, lim, bottom):
    p = np.array(pts)
    ax.plot(p[:, 0], p[:, 1], 'o', ms=2.5, mew=0, color=color, zorder=2)
    m = lim[1] * 1.1
    if bottom:
        ax.plot([0, m], [0, 1.1 * m], color='#b0b0b0', lw=0.6, zorder=3)
        ax.plot([0, m], [0, 0.9 * m], color='#b0b0b0', lw=0.6, zorder=3)
    ax.plot([0, m], [0, m], color='k', lw=0.8, zorder=4)
    ax.plot([0, m], [0, 1.1 * m], color='k', lw=0.7, ls=(0, (4, 2.5)), zorder=4)
    ax.plot([0, m], [0, 0.9 * m], color='k', lw=0.7, ls=(0, (4, 2.5)), zorder=4)
    h = Line2D([], [], color='#8c8c8c', lw=0.9, ls=(0, (3.5, 2.5)))
    ax.legend([h], ['10%'], loc='lower right', bbox_to_anchor=(0.955, 0.05),
              borderaxespad=0, fancybox=False, edgecolor='#8c8c8c', framealpha=1,
              fontsize=11.5, handlelength=2.6, handletextpad=0.6, borderpad=0.3)

for i in range(4):
    l, r = top_rects[i]
    ax = px_axes(l, r, 93, 292)
    lim = (0, 2, 0.09, 2.115)
    style(ax, lim, hm0_ticks, hm0_ticklabels)
    draw(ax, hm0_sets[i], 'b', lim, False)
    ax.text(0.5, 1 + 13 / 199, r'$\mathbf{H}_{\mathbf{m0}}$ [m]', transform=ax.transAxes,
            ha='center', va='baseline', fontsize=12, fontweight='bold', color='k')
    ax.text(10 / (r - l), 0.864, 'SCI=' + sci_hm0[i], transform=ax.transAxes,
            va='center', fontsize=11.2, color='k')
    ax.text(10 / (r - l), 0.764, 'rel. bias=' + bias_hm0[i], transform=ax.transAxes,
            va='center', fontsize=11.2, color='k')
    ax.set_xlabel(xlabel, fontsize=12, color=txt_col)
    ax.set_ylabel(ylabels[i], fontsize=12, color=txt_col)
    ax.xaxis.set_label_coords(0.5, -26 / 199)
    ax.yaxis.set_label_coords(-24 / (r - l), 0.5)

for i in range(4):
    l, r = bot_rects[i]
    ax = px_axes(l, r, 376, 577)
    lim = (0, 4, 0, 4)
    style(ax, lim, tm_ticks, [str(t) for t in tm_ticks])
    draw(ax, tm_sets[i], 'r', lim, True)
    ax.text(0.5, 1 + 12 / 201, '$\\mathbf{T}_{\\mathbf{m\u20101{,}0}}$ [s]', transform=ax.transAxes,
            ha='center', va='baseline', fontsize=12, fontweight='bold', color='k')
    ax.text(10 / (r - l), 0.796, 'SCI=' + sci_tm[i], transform=ax.transAxes,
            va='center', fontsize=11.2, color='k')
    ax.text(10 / (r - l), 0.697, 'rel. bias=' + bias_tm[i], transform=ax.transAxes,
            va='center', fontsize=11.2, color='k')
    ax.set_xlabel(xlabel, fontsize=12, color=txt_col)
    ax.set_ylabel(ylabels[i], fontsize=12, color=txt_col)
    ax.xaxis.set_label_coords(0.5, -25 / 201)
    ax.yaxis.set_label_coords(-17 / (r - l), 0.5)

# panel frames and titles
fig.add_artist(Rectangle((9.5 / W, -0.05), (530.5 - 9.5) / W, 1.05 - 44 / H,
                         transform=fig.transFigure, fill=False, ec='#505050', lw=0.9))
fig.add_artist(Rectangle((541.5 / W, -0.05), 0.6, 1.05 - 44 / H,
                         transform=fig.transFigure, fill=False, ec='#505050', lw=0.9))
fig.text(270 / W, 1 - 23 / H, panel_titles[0], ha='center', va='center',
         fontsize=13.2, fontweight='bold')
fig.text(812 / W, 1 - 23 / H, panel_titles[1], ha='center', va='center',
         fontsize=13.2, fontweight='bold')

fig.savefig('out.png', dpi=100)
